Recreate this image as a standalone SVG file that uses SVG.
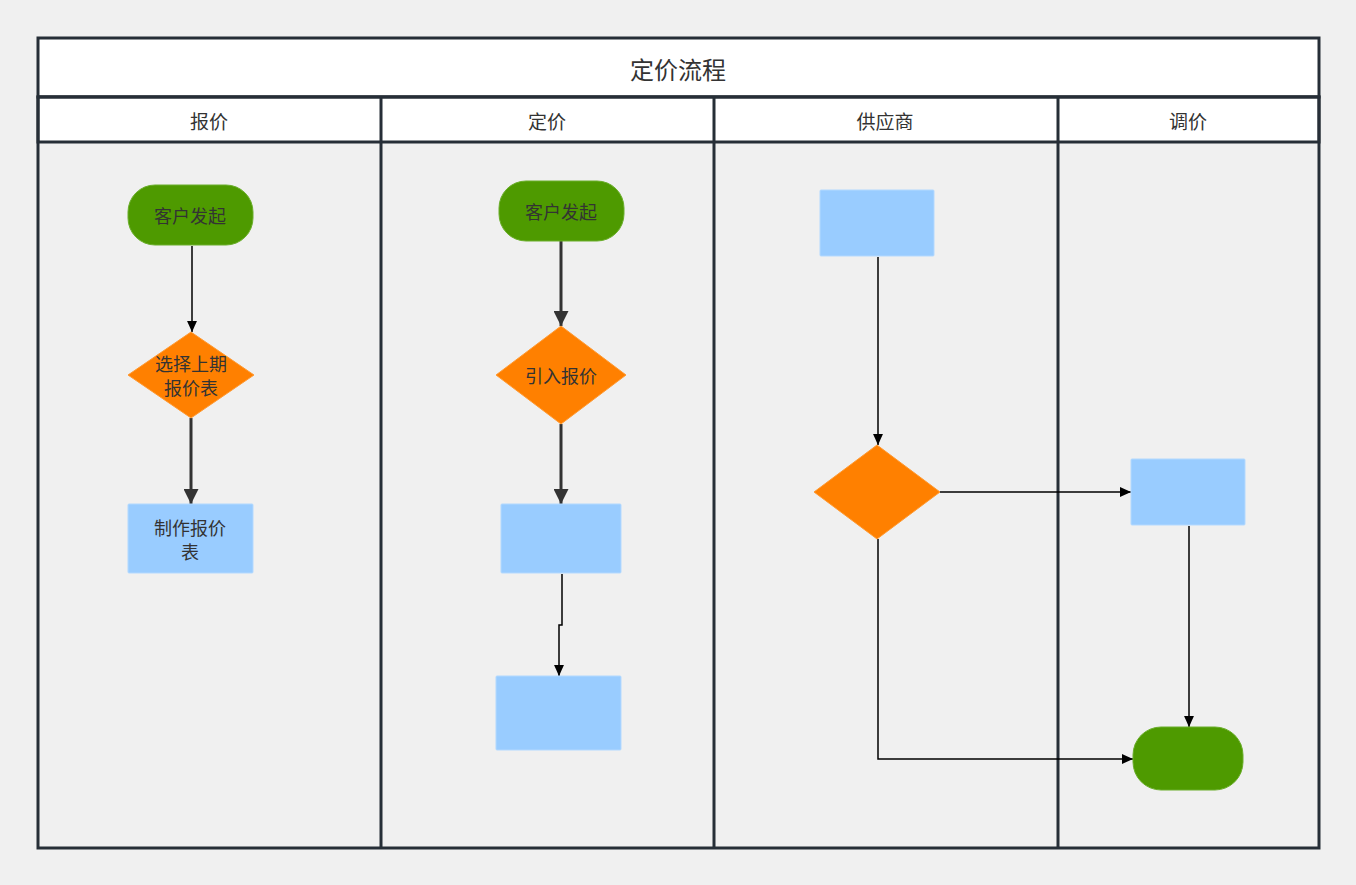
<svg xmlns="http://www.w3.org/2000/svg" width="1356" height="885" viewBox="0 0 1356 885">
<defs>
<style>
.lane{fill:none;stroke:#262e37;stroke-width:3}
.hdr{fill:#ffffff;stroke:#262e37;stroke-width:3}
.t{font-family:"Noto Sans CJK SC","Noto Sans",sans-serif;fill:#333333;text-anchor:middle;dominant-baseline:central}
.ttl{font-size:24px}
.h{font-size:19px}
.n{font-size:18px}
.term{fill:#4e9a00;stroke:#6aae2a;stroke-width:1}
.dia{fill:#ff8000;stroke:#ff9a33;stroke-width:1}
.box{fill:#99ccff;stroke:#b3d9ff;stroke-width:1}
.thin{fill:none;stroke:#000000;stroke-width:1.5}
.thick{fill:none;stroke:#333333;stroke-width:3}
</style>
<marker id="ah" viewBox="0 0 10 10" refX="10" refY="5" markerWidth="13" markerHeight="11" markerUnits="userSpaceOnUse" orient="auto"><path d="M0,0.5 L10,5 L0,9.5 Z" fill="#000"/></marker>
<marker id="ahb" viewBox="0 0 10 10" refX="10" refY="5" markerWidth="7" markerHeight="5" orient="auto"><path d="M0,0 L10,5 L0,10 Z" fill="#333"/></marker>
</defs>
<rect width="1356" height="885" fill="#f0f0f0"/>
<g id="pool">
<rect class="hdr" x="38" y="38" width="1281" height="59"/>
<text class="t ttl" x="678" y="68">定价流程</text>
<rect class="hdr" x="38" y="97" width="1281" height="45"/>
<rect class="lane" x="38" y="97" width="1281" height="751"/>
<line class="lane" x1="381" y1="97" x2="381" y2="848"/>
<line class="lane" x1="714" y1="97" x2="714" y2="848"/>
<line class="lane" x1="1058" y1="97" x2="1058" y2="848"/>
<text class="t h" x="209" y="120">报价</text>
<text class="t h" x="547" y="120">定价</text>
<text class="t h" x="885" y="120">供应商</text>
<text class="t h" x="1188" y="120">调价</text>
</g>
<g id="connectors">
<path class="thin" d="M192,246 V332" marker-end="url(#ah)"/>
<path class="thick" d="M191,418 V504" marker-end="url(#ahb)"/>
<path class="thick" d="M561,241 V326" marker-end="url(#ahb)"/>
<path class="thick" d="M561,424 V504" marker-end="url(#ahb)"/>
<path class="thin" d="M562,574 V625 H559 V676" marker-end="url(#ah)"/>
<path class="thin" d="M878,257 V445" marker-end="url(#ah)"/>
<path class="thin" d="M940,492 H1131" marker-end="url(#ah)"/>
<path class="thin" d="M878,539 V759 H1133" marker-end="url(#ah)"/>
<path class="thin" d="M1189,526 V727" marker-end="url(#ah)"/>
</g>
<g id="n1"><rect class="term" x="128" y="185" width="125" height="60" rx="27"/><text class="t n" x="190" y="215">客户发起</text></g>
<g id="n2"><polygon class="dia" points="191,332 254,375 191,418 128,375"/><text class="t n" x="191" y="363">选择上期</text><text class="t n" x="191" y="387">报价表</text></g>
<g id="n3"><rect class="box" x="128" y="504" width="125" height="69" rx="1"/><text class="t n" x="190" y="527">制作报价</text><text class="t n" x="190" y="551">表</text></g>
<g id="n4"><rect class="term" x="499" y="181" width="125" height="60" rx="27"/><text class="t n" x="561" y="211">客户发起</text></g>
<g id="n5"><polygon class="dia" points="561,326 626,375 561,424 496,375"/><text class="t n" x="561" y="375">引入报价</text></g>
<g id="n6"><rect class="box" x="501" y="504" width="120" height="69" rx="1"/></g>
<g id="n7"><rect class="box" x="496" y="676" width="125" height="74" rx="1"/></g>
<g id="n8"><rect class="box" x="820" y="190" width="114" height="66" rx="1"/></g>
<g id="n9"><polygon class="dia" points="877,445 940,492 877,539 814,492"/></g>
<g id="n10"><rect class="box" x="1131" y="459" width="114" height="66" rx="1"/></g>
<g id="n11"><rect class="term" x="1133" y="727" width="110" height="63" rx="28"/></g>
</svg>
